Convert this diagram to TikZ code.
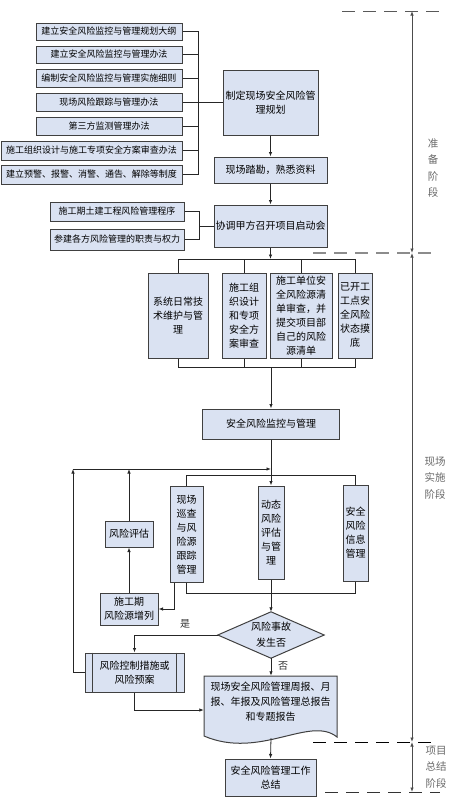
\documentclass[tikz,border=0pt]{standalone}
\usepackage{fontspec}
\setmainfont{Noto Sans CJK SC}
\usetikzlibrary{arrows.meta,calc}
\definecolor{boxfill}{RGB}{218,226,242}
\definecolor{boxline}{RGB}{64,64,64}
\definecolor{stagegray}{RGB}{105,105,105}
\begin{document}
\begin{tikzpicture}[x=1pt,y=-1pt,
  bx/.style={draw=boxline, fill=boxfill, line width=1pt, inner sep=1pt, align=center, font=\fontsize{10}{14}\selectfont},
  sbx/.style={bx, font=\fontsize{9}{12}\selectfont},
  ln/.style={draw=black!85, line width=0.8pt},
  arr/.style={ln, -{Latex[length=4.5pt,width=3.5pt]}},
  darr/.style={draw=black!70, line width=0.8pt, {Latex[length=4.5pt,width=3.5pt]}-{Latex[length=4.5pt,width=3.5pt]}},
  dline/.style={line width=1pt, dash pattern=on 13pt off 8pt},
  stg/.style={text=stagegray, align=center, font=\fontsize{10.5}{16.5}\selectfont},
  lbl/.style={text=black!80, font=\fontsize{10}{12}\selectfont}
]
\useasboundingbox (0,0) rectangle (468,807);

% ---------- preparation stage ----------
\node[sbx, minimum width=146, minimum height=17] (p1) at (109,31.5) {建立安全风险监控与管理规划大纲};
\node[sbx, minimum width=146, minimum height=17] (p2) at (109,54.5) {建立安全风险监控与管理办法};
\node[sbx, minimum width=146, minimum height=18] (p3) at (109,78) {编制安全风险监控与管理实施细则};
\node[sbx, minimum width=146, minimum height=18] (p4) at (109,102.5) {现场风险跟踪与管理办法};
\node[sbx, minimum width=146, minimum height=18] (p5) at (109,126) {第三方监测管理办法};
\node[sbx, minimum width=181, minimum height=19] (p6) at (91.5,150.5) {施工组织设计与施工专项安全方案审查办法};
\node[sbx, minimum width=181, minimum height=19] (p7) at (91.5,174.5) {建立预警、报警、消警、通告、解除等制度};

\node[bx, minimum width=95, minimum height=65] (main) at (270.5,102.5) {制定现场安全风险管\\理规划};
\node[bx, minimum width=113, minimum height=26] (survey) at (270.5,170) {现场踏勘，熟悉资料};
\node[bx, minimum width=113, minimum height=42] (coord) at (270.5,226) {协调甲方召开项目启动会};

\node[sbx, minimum width=134, minimum height=19] (q1) at (117,211.5) {施工期土建工程风险管理程序};
\node[sbx, minimum width=134, minimum height=21] (q2) at (117,239.5) {参建各方风险管理的职责与权力};

\coordinate (br1) at (198,0);
\draw[ln] (p1.east) -- (p1.east -| br1) -- (p7.east -| br1) -- (p7.east);
\foreach \n in {p2,p3,p5,p6} \draw[ln] (\n.east) -- (\n.east -| br1);
\draw[ln] (p4.east) -- (main.west);

\coordinate (br2) at (199,0);
\draw[ln] (q1.east) -- (q1.east -| br2) -- (q2.east -| br2) -- (q2.east);
\draw[ln] (coord.west -| br2) -- (coord.west);

\draw[arr] (main.south) -- (survey.north);
\draw[arr] (survey.south) -- (coord.north);

% ---------- implementation stage ----------
\node[bx, minimum width=60, minimum height=85] (A) at (178,315.5) {系统日常技\\术维护与管\\理};
\node[bx, minimum width=44, minimum height=85] (B) at (244,315.5) {施工组\\织设计\\和专项\\安全方\\案审查};
\node[bx, minimum width=62, minimum height=85] (C) at (301,315.5) {施工单位安\\全风险源清\\单审查，并\\提交项目部\\自己的风险\\源清单};
\node[bx, minimum width=34, minimum height=85] (D) at (355,315.5) {已开工\\工点安\\全风险\\状态摸\\底};

\coordinate (t1) at (0,259);
\coordinate (b1) at (0,367);
\draw[arr] (coord.south) -- (coord.south |- t1);
\draw[ln] (A.north) -- (A.north |- t1) -- (D.north |- t1) -- (D.north);
\draw[ln] (B.north) -- (B.north |- t1);
\draw[ln] (C.north) -- (C.north |- t1);
\draw[ln] (A.south) -- (A.south |- b1) -- (D.south |- b1) -- (D.south);
\draw[ln] (B.south) -- (B.south |- b1);
\draw[ln] (C.south) -- (C.south |- b1);

\node[bx, minimum width=137, minimum height=30] (mon) at (271,424) {安全风险监控与管理};
\draw[arr] (mon.north |- b1) -- (mon.north);

\node[bx, minimum width=33, minimum height=96] (patrol) at (186.5,534.5) {现场\\巡查\\与风\\险源\\跟踪\\管理};
\node[bx, minimum width=26, minimum height=93] (dyn) at (271,532.5) {动态\\风险\\评估\\与管\\理};
\node[bx, minimum width=25, minimum height=96] (info) at (355.5,533) {安全\\风险\\信息\\管理};

\coordinate (t2) at (0,475);
\coordinate (b2) at (0,593);
\draw[arr] (mon.south) -- (dyn.north);
\draw[ln] (patrol.north) -- (patrol.north |- t2) -- (info.north |- t2) -- (info.north);
\draw[ln] (patrol.south) -- (patrol.south |- b2) -- (info.south |- b2) -- (info.south);

\node[bx, minimum width=48, minimum height=26] (eval) at (129,534) {风险评估};
\node[bx, minimum width=58, minimum height=32] (newsrc) at (129,609) {施工期\\风险源增列};

\coordinate (fb) at (73,469);
\draw[arr] (newsrc.north) -- (eval.south);
\draw[arr] (eval.north) -- (eval.north |- fb);
\draw[arr] ([xshift=-12.5pt]patrol.south) |- (newsrc.east);

% decision diamond
\node[minimum width=106, minimum height=46, inner sep=0] (dia) at (271,635) {};
\draw[draw=boxline, fill=boxfill, line width=1pt] (dia.north) -- (dia.east) -- (dia.south) -- (dia.west) -- cycle;
\node[align=center, font=\fontsize{10}{16}\selectfont] at (dia.center) {风险事故\\发生否};
\draw[arr] (dyn.south) -- (dia.north);

% control measures (predefined process)
\node[bx, minimum width=99, minimum height=39] (ctrl) at (134.5,672.5) {风险控制措施或\\风险预案};
\draw[draw=boxline, line width=1pt] ([xshift=8pt]ctrl.north west) -- ([xshift=8pt]ctrl.south west);
\draw[draw=boxline, line width=1pt] ([xshift=-8pt]ctrl.north east) -- ([xshift=-8pt]ctrl.south east);

\draw[arr] (dia.west) -| (ctrl.north);
\node[lbl] (yes) at (185,624) {是};
\draw[arr] (ctrl.west) -| (fb);
\draw[arr] (fb) -- (fb -| dyn.north);

% report document
\node[minimum width=133, minimum height=62, inner sep=0] (doc) at (270.5,707) {};
\draw[draw=boxline, fill=boxfill, line width=1pt] (204,676) -- (337,676) -- (337,737) .. controls (310,715) and (260,760) .. (204,736) -- cycle;
\node[align=center, font=\fontsize{10}{15}\selectfont] at (270.5,702) {现场安全风险管理周报、月\\报、年报及风险管理总报告\\和专题报告};
\draw[arr] (dia.south) -- (dia.south |- doc.north);
\node[lbl] (no) at (283,666) {否};
\draw[arr] (ctrl.south) |- (doc.west |- 0,710);

% ---------- summary stage ----------
\node[bx, minimum width=91, minimum height=37] (sum) at (270.5,777.5) {安全风险管理工作\\总结};
\draw[arr] (271,738) -- (sum.north);

% ---------- stage markers ----------
\coordinate (s0) at (412,11);
\coordinate (s1) at (412,253);
\coordinate (s2) at (412,742);
\coordinate (s3) at (412,792);
\draw[dline, draw=black!65] (342,11) -- (440,11);
\draw[dline, draw=black!45, line width=1.3pt] (313,253) -- (433,253);
\draw[dline, draw=black] (313,742) -- (433,742);
\draw[dline, draw=black!80] (325,792) -- (440,792);
\draw[darr] (s0) -- (s1);
\draw[darr] (s1) -- (s2);
\draw[darr] (s2) -- (s3);

\node[stg] (st1) at (433,168) {准\\备\\阶\\段};
\node[stg] (st2) at (435,478) {现场\\实施\\阶段};
\node[stg] (st3) at (436,767) {项目\\总结\\阶段};
\end{tikzpicture}
\end{document}
